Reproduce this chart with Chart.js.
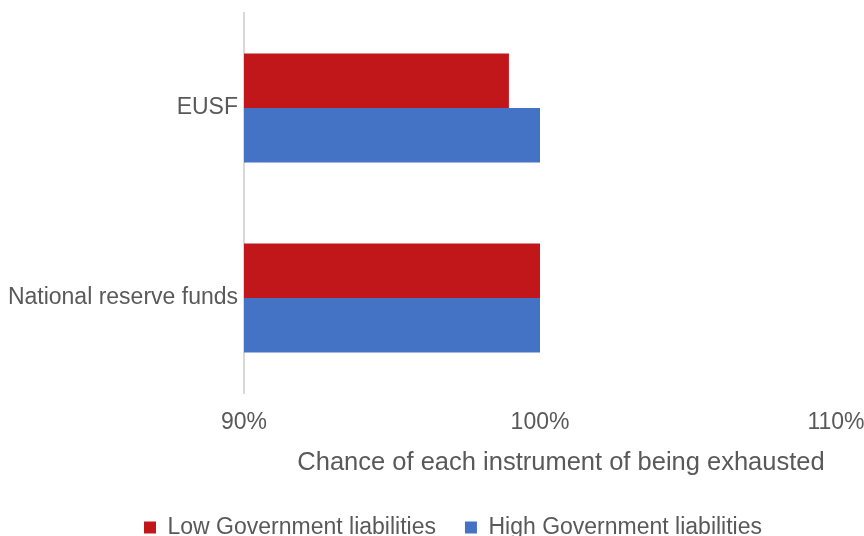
<!DOCTYPE html>
<html>
<head>
<meta charset="utf-8">
<script src="https://cdn.jsdelivr.net/npm/chart.js@4"></script>
<style>
html,body{margin:0;padding:0;background:#fff;}
#wrap{width:864px;height:536px;position:relative;}
</style>
</head>
<body>
<div id="wrap"><canvas id="c" width="864" height="536"></canvas></div>
<script>
const categories = ["EUSF", "National reserve funds"];
const lowGov = [98.95, 100];
const highGov = [100, 100];
const seriesNames = ["Low Government liabilities", "High Government liabilities"];
const xMin = 90, xMax = 110, xStep = 10;
const axisTitle = "Chance of each instrument of being exhausted";

const FONT = "'Liberation Sans', Arial, sans-serif";
const TXT = "#595959";

// the reference centres the legend and the axis title a little right of centre
const shiftPlugin = {
  id: 'shiftPlugin',
  afterLayout(chart) {
    const lg = chart.legend;
    if (lg) { lg.left += 21; lg.right += 21; }
    const s = chart.scales.x;
    if (s && !s._titleShifted) {
      const orig = s.drawTitle.bind(s);
      s.drawTitle = function () {
        const l = this.left, r = this.right;
        this.left += 21; this.right += 21;
        orig();
        this.left = l; this.right = r;
      };
      s._titleShifted = true;
    }
  }
};

new Chart(document.getElementById('c'), {
  type: 'bar',
  data: {
    labels: categories,
    datasets: [
      { label: seriesNames[0], data: lowGov, backgroundColor: '#C1171A', borderWidth: 0 },
      { label: seriesNames[1], data: highGov, backgroundColor: '#4472C4', borderWidth: 0 }
    ]
  },
  options: {
    indexAxis: 'y',
    responsive: false,
    animation: false,
    devicePixelRatio: 1,
    layout: { padding: { top: 13, right: 0, left: 0, bottom: -13 } },
    datasets: { bar: { categoryPercentage: 0.574, barPercentage: 1.0 } },
    scales: {
      x: {
        min: xMin, max: xMax,
        afterFit: (s) => { s.height = 94; s.paddingRight = 28; s.paddingLeft = 0; },
        grid: { display: false, drawTicks: false },
        border: { display: false },
        ticks: { stepSize: xStep, padding: 16, color: TXT, font: { family: FONT, size: 23 },
                 callback: (v) => v + '%' },
        title: { display: true, text: axisTitle, color: TXT, font: { family: FONT, size: 25.5 }, padding: { top: 4, bottom: 9 } }
      },
      y: {
        afterFit: (s) => { s.width = 244; s.paddingTop = 0; s.paddingBottom = 0; },
        grid: { display: true, drawOnChartArea: false, drawTicks: false },
        border: { display: true, color: '#D9D9D9', width: 2 },
        ticks: { padding: 6, color: TXT, font: { family: FONT, size: 23 } }
      }
    },
    plugins: {
      legend: {
        position: 'bottom',
        labels: { boxWidth: 12, boxHeight: 12, padding: 29, color: TXT, font: { family: FONT, size: 23 } }
      },
      tooltip: { enabled: false }
    }
  },
  plugins: [shiftPlugin]
});
</script>
</body>
</html>
